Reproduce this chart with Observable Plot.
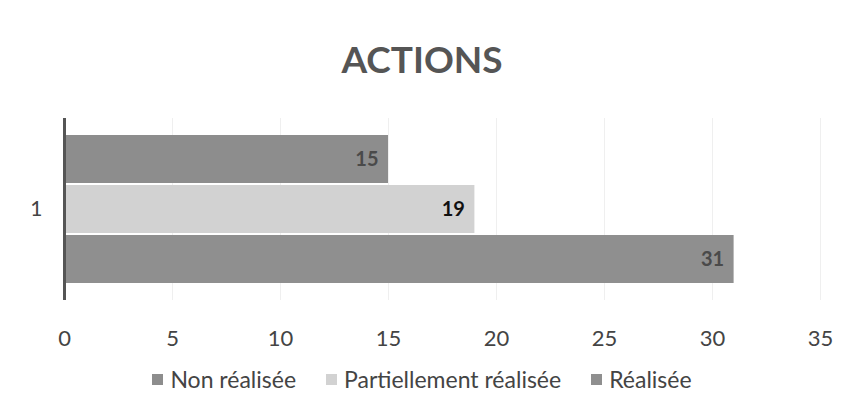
<!DOCTYPE html>
<html>
<head>
<meta charset="utf-8">
<script src="https://cdn.jsdelivr.net/npm/d3@7"></script>
<script src="https://cdn.jsdelivr.net/npm/@observablehq/plot@0.6"></script>
<style>
  body { margin: 0; background: #fff; font-family: Lato, "Open Sans", sans-serif; }
  #wrap { width: 844px; height: 410px; position: relative; overflow: hidden; }
  #title { position: absolute; top: 36px; left: 0; width: 844px; text-align: center; font-size: 37px; font-weight: bold; color: #555; }
  #chart { position: absolute; top: 100px; left: 0; }
  #chart g[aria-label="x-axis tick label"] { font-size: 22px; fill: #444; }
  #chart g[aria-label="fy-axis tick label"] { font-size: 21px; fill: #444; }
  #legend { position: absolute; top: 365px; left: 0; width: 844px; text-align: center; font-size: 23px; color: #444; }
  #legend span.item { margin: 0 15px; white-space: nowrap; }
  #legend span.sw { display: inline-block; width: 11px; height: 11px; margin-right: 7px; vertical-align: 3px; }
</style>
</head>
<body>
<div id="wrap">
  <div id="title">ACTIONS</div>
  <div id="chart"></div>
  <div id="legend"></div>
</div>
<script>
const categories = ["1"];
const series = ["Non réalisée", "Partiellement réalisée", "Réalisée"];
const values = [15, 19, 31];
const colors = ["#8d8d8d", "#d2d2d2", "#8f8f8f"];
const labelColors = ["#4a4a4a", "#111111", "#4a4a4a"];
const xTicks = [0, 5, 10, 15, 20, 25, 30, 35];

const data = series.map((s, i) => ({cat: categories[0], series: s, value: values[i], lc: labelColors[i]}));

const plot = Plot.plot({
  width: 844,
  height: 255,
  marginTop: 18,
  marginBottom: 55,
  marginLeft: 64,
  marginRight: 24,
  style: {fontFamily: "Lato, 'Open Sans', sans-serif", background: "transparent"},
  x: {domain: [0, 35], label: null},
  fy: {domain: categories, padding: 0, label: null},
  y: {domain: series, paddingInner: 0.04, paddingOuter: 0.34, axis: null},
  color: {domain: series, range: colors},
  marks: [
    Plot.gridX(xTicks, {stroke: "#d8d8d8", strokeOpacity: 0.4}),
    Plot.barX(data, {fy: "cat", y: "series", x: "value", fill: "series"}),
    Plot.text(data, {fy: "cat", y: "series", x: "value", text: d => String(d.value), textAnchor: "end", dx: -10, fontWeight: "bold", fontSize: 20, fill: "lc"}),
    Plot.ruleX([0], {stroke: "#555", strokeWidth: 3}),
    Plot.axisX(xTicks, {tickSize: 0, tickPadding: 30, fontSize: 22, fill: "#444", label: null}),
    Plot.axisFy({anchor: "left", tickSize: 0, tickPadding: 22, fontSize: 21, fill: "#444", label: null})
  ]
});
document.getElementById("chart").appendChild(plot);

const legend = document.getElementById("legend");
series.forEach((s, i) => {
  const item = document.createElement("span");
  item.className = "item";
  const sw = document.createElement("span");
  sw.className = "sw";
  sw.style.background = colors[i];
  item.appendChild(sw);
  item.appendChild(document.createTextNode(s));
  legend.appendChild(item);
});
</script>
</body>
</html>
